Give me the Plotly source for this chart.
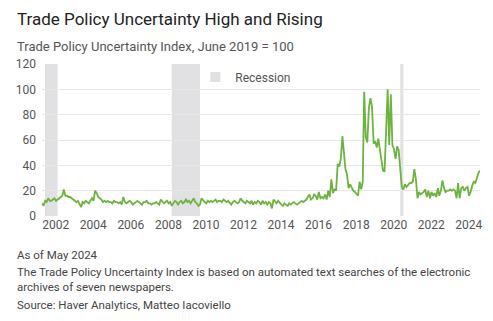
import pandas as pd
import plotly.graph_objects as go

# Monthly Trade Policy Uncertainty Index (June 2019 = 100), Jan 2001 - May 2024
tpu_2001 = [10, 8, 12, 11, 14, 12, 12, 13, 14, 12, 13, 14]
tpu_2002 = [15, 16, 21, 16, 16, 15, 15, 14, 13, 12, 11, 12]
tpu_2003 = [10, 7, 11, 10, 12, 11, 10, 12, 14, 12, 20, 18]
tpu_2004 = [15, 14, 13, 11, 12, 11, 12, 11, 11, 10, 12, 11]
tpu_2005 = [11, 10, 11, 9, 15, 11, 10, 11, 12, 11, 9, 10]
tpu_2006 = [11, 12, 11, 10, 9, 11, 11, 12, 10, 10, 9, 10]
tpu_2007 = [10, 11, 10, 9, 13, 11, 10, 11, 12, 10, 11, 8]
tpu_2008 = [10, 12, 11, 9, 11, 12, 10, 11, 13, 11, 12, 10]
tpu_2009 = [12, 14, 11, 10, 8, 9, 14, 12, 11, 10, 12, 11]
tpu_2010 = [12, 11, 12, 13, 11, 12, 12, 11, 13, 12, 11, 12]
tpu_2011 = [10, 9, 11, 12, 11, 10, 11, 14, 12, 11, 10, 12]
tpu_2012 = [11, 10, 12, 9, 11, 10, 12, 11, 9, 12, 10, 11]
tpu_2013 = [9, 11, 10, 6, 13, 11, 10, 12, 10, 9, 8, 10]
tpu_2014 = [9, 8, 10, 9, 10, 11, 10, 9, 10, 11, 12, 11]
tpu_2015 = [12, 13, 15, 17, 13, 14, 17, 16, 13, 19, 14, 15]
tpu_2016 = [14, 17, 13, 20, 15, 29, 18, 21, 20, 41, 39, 45]
tpu_2017 = [63, 52, 37, 33, 22, 25, 22, 20, 19, 17, 16, 27]
tpu_2018 = [21, 27, 98, 62, 58, 86, 93, 86, 57, 59, 54, 61]
tpu_2019 = [52, 45, 36, 35, 74, 100, 56, 96, 56, 53, 45, 55]
tpu_2020 = [52, 36, 23, 21, 25, 23, 25, 26, 26, 27, 37, 29]
tpu_2021 = [14, 19, 17, 18, 19, 21, 15, 20, 14, 19, 16, 18]
tpu_2022 = [15, 22, 16, 20, 28, 22, 19, 20, 20, 21, 20, 21]
tpu_2023 = [20, 14, 26, 14, 22, 23, 20, 22, 23, 16, 19, 24]
tpu_2024 = [27, 26, 30, 34, 36]

tpu_values = (tpu_2001 + tpu_2002 + tpu_2003 + tpu_2004 + tpu_2005 + tpu_2006 +
              tpu_2007 + tpu_2008 + tpu_2009 + tpu_2010 + tpu_2011 + tpu_2012 +
              tpu_2013 + tpu_2014 + tpu_2015 + tpu_2016 + tpu_2017 + tpu_2018 +
              tpu_2019 + tpu_2020 + tpu_2021 + tpu_2022 + tpu_2023 + tpu_2024)
dates = pd.date_range("2001-01-01", periods=len(tpu_values), freq="MS")

recession_starts = ["2001-03-01", "2007-12-01", "2020-02-01"]
recession_ends = ["2001-11-01", "2009-06-01", "2020-04-01"]

tick_years = [str(y) for y in range(2002, 2025, 2)]
tick_dates = [f"{y}-01-01" for y in tick_years]
y_ticks = [0, 20, 40, 60, 80, 100, 120]

W, H = 493, 321
L, R, T, B = 42, 11, 64, 105
PW, PH = W - L - R, H - T - B

def px_x(px):
    return (px - L) / PW

def px_y(py):
    return (H - B - py) / PH

FONT = "Roboto"
LINE_GREEN = "#6db33f"
REC_GREY = "#e1e1e3"

fig = go.Figure()

for s, e in zip(recession_starts, recession_ends):
    fig.add_vrect(x0=s, x1=e, fillcolor=REC_GREY, opacity=1, line_width=0,
                  layer="below")

fig.add_trace(go.Scatter(
    x=[None], y=[None], mode="markers", name="Recession",
    marker=dict(symbol="square", size=10, color=REC_GREY),
    showlegend=True, hoverinfo="skip"))

fig.add_trace(go.Scatter(
    x=dates, y=tpu_values, mode="lines", name="TPU",
    line=dict(color=LINE_GREEN, width=1.8), showlegend=False))

annotations = [
    dict(text="Trade Policy Uncertainty High and Rising", x=px_x(15), y=px_y(19),
         font=dict(size=17, color="#222222")),
    dict(text="Trade Policy Uncertainty Index, June 2019 = 100", x=px_x(15), y=px_y(47),
         font=dict(size=13, color="#555555")),
    dict(text="As of May 2024", x=px_x(15), y=px_y(255),
         font=dict(size=11.5, color="#444444")),
    dict(text="The Trade Policy Uncertainty Index is based on automated text searches of the electronic",
         x=px_x(15), y=px_y(272), font=dict(size=11.5, color="#444444")),
    dict(text="archives of seven newspapers.", x=px_x(15), y=px_y(287),
         font=dict(size=11.5, color="#444444")),
    dict(text="Source: Haver Analytics, Matteo Iacoviello", x=px_x(15), y=px_y(305),
         font=dict(size=11.5, color="#444444")),
]
for a in annotations:
    a.update(xref="paper", yref="paper", xanchor="left", yanchor="middle",
             showarrow=False, font_family=FONT)

fig.update_layout(
    width=W, height=H,
    margin=dict(l=L, r=R, t=T, b=B, pad=0),
    paper_bgcolor="white", plot_bgcolor="white",
    font=dict(family=FONT, size=12, color="#555555"),
    annotations=annotations,
    showlegend=True,
    legend=dict(x=px_x(196), y=px_y(77), xanchor="left", yanchor="middle",
                bgcolor="rgba(0,0,0,0)", font=dict(size=12, color="#555555"),
                itemwidth=30),
    xaxis=dict(type="date", range=[dates[0], dates[-1]], tickvals=tick_dates,
               ticktext=tick_years, showgrid=False, zeroline=False,
               showline=False, ticks="", ticklabelshift=-5,
               tickfont=dict(size=12, color="#555555")),
    yaxis=dict(range=[0, 120], tickvals=y_ticks, showgrid=True,
               gridcolor="#e6e6e6", gridwidth=1, zeroline=False, showline=False,
               ticks="", ticklabelstandoff=5,
               tickfont=dict(size=12, color="#555555")),
)

fig.write_html("out.html")
